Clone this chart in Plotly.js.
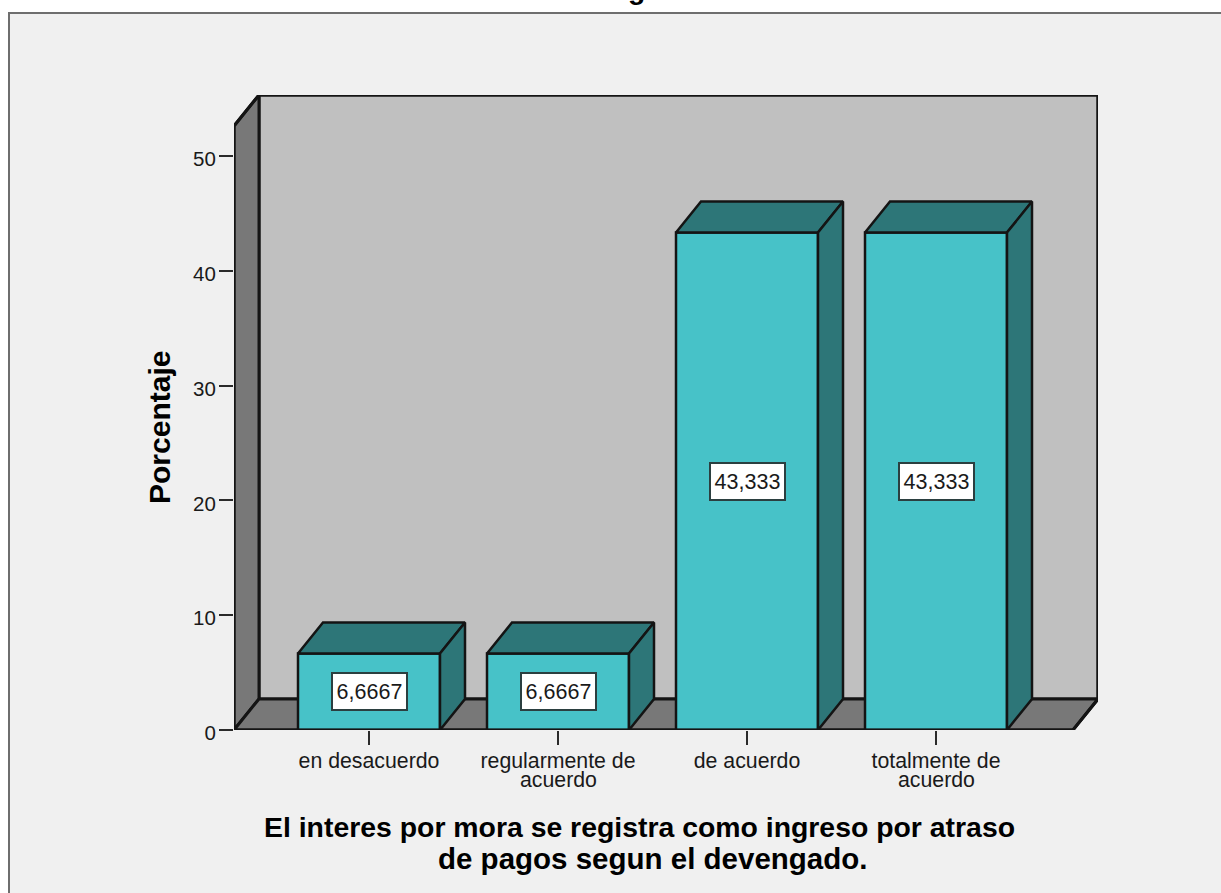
<!DOCTYPE html>
<html>
<head>
<meta charset="utf-8">
<script src="https://cdn.plot.ly/plotly-3.0.1.min.js"></script>
<style>
  html, body { margin: 0; padding: 0; background: #ffffff; overflow: hidden; }
  #frame { position: absolute; left: 8px; top: 12px; right: 0; bottom: 0;
           background: #f0f0f0; border-left: 2px solid #6e6e6e; border-top: 2px solid #6e6e6e; }
  #chart { position: absolute; left: 0; top: 0; width: 1221px; height: 893px; }
</style>
</head>
<body>
<div id="frame"></div>
<div id="chart"></div>
<script>
// Survey answers and their share of respondents
const categories = ['en desacuerdo', 'regularmente de', 'de acuerdo', 'totalmente de'];
const secondLines = ['', 'acuerdo', '', 'acuerdo'];
const percentages = [6.6667, 6.6667, 43.333, 43.333];
const yTicks = [0, 10, 20, 30, 40, 50];
const xTitleLines = ['El interes por mora se registra como ingreso por atraso',
                     'de pagos segun el devengado.'];
const yTitle = 'Porcentaje';

// Canvas geometry of the plot box, in pixels
const W = 1221, H = 893;
const left = 234, right = 1098, top_ = 95, bottom = 730;
const pxPerCategory = 189, firstCategoryPx = 369;
const pxPerUnit = 11.48;

// Axis ranges follow from the geometry above
const xRange = [(left - firstCategoryPx) / pxPerCategory, (right - firstCategoryPx) / pxPerCategory];
const yRange = [0, (bottom - top_) / pxPerUnit];

// Oblique depth of the 3D box, in axis units
const depthX = 25 / pxPerCategory;
const depthY = 31 / pxPerUnit;
const barWidth = 142 / pxPerCategory;
const wallTop = yRange[1] - depthY;
const floorRight = xRange[1] - depthX;

const ink = '#141414';
const wallColor = '#c0c0c0', sideColor = '#787878';
const barFront = '#47c2c8', barShade = '#2d7678';

const polyPath = pts => 'M' + pts.map(p => p[0] + ',' + p[1]).join('L') + 'Z';
const wallShape = (pts, fill) => ({
  type: 'path', xref: 'x', yref: 'y', layer: 'below', path: polyPath(pts),
  fillcolor: fill, line: { color: ink, width: 3 }
});

const shapes = [
  wallShape([[xRange[0] + depthX, depthY], [xRange[1], depthY], [xRange[1], yRange[1]], [xRange[0] + depthX, yRange[1]]], wallColor),
  wallShape([[xRange[0], 0], [xRange[0] + depthX, depthY], [xRange[0] + depthX, yRange[1]], [xRange[0], wallTop]], sideColor),
  wallShape([[xRange[0], 0], [floorRight, 0], [xRange[1], depthY], [xRange[0] + depthX, depthY]], sideColor)
];

// Front faces of the columns
const bars = {
  type: 'bar', x: categories.map((_, i) => i), y: percentages, width: barWidth,
  marker: { color: barFront, line: { color: ink, width: 2.5 } }, hoverinfo: 'x+y', showlegend: false
};

// Top and side faces of one column, worked out from its value
function faceTrace(i, v, kind) {
  const x0 = i - barWidth / 2, x1 = i + barWidth / 2;
  const pts = kind === 'top'
    ? [[x0, v], [x1, v], [x1 + depthX, v + depthY], [x0 + depthX, v + depthY], [x0, v]]
    : [[x1, 0], [x1 + depthX, depthY], [x1 + depthX, v + depthY], [x1, v], [x1, 0]];
  return {
    type: 'scatter', mode: 'lines', x: pts.map(p => p[0]), y: pts.map(p => p[1]),
    fill: 'toself', fillcolor: barShade, line: { color: ink, width: 2.5 },
    hoverinfo: 'skip', showlegend: false
  };
}
const faces = [];
percentages.forEach((v, i) => { faces.push(faceTrace(i, v, 'top'), faceTrace(i, v, 'side')); });

// Outer edges of the box; left unclipped so the full stroke shows at the plot border
const outlineX = [floorRight, xRange[1], xRange[1], xRange[0] + depthX, xRange[0], xRange[0], floorRight];
const outlineY = [0, depthY, yRange[1], yRange[1], wallTop, 0, 0];
const outline = {
  type: 'scatter', mode: 'lines', x: outlineX, y: outlineY, cliponaxis: false,
  line: { color: ink, width: 3 }, hoverinfo: 'skip', showlegend: false
};

const plotW = right - left, plotH = bottom - top_;
const paperX = px => (px - left) / plotW;
const paperY = py => (bottom - py) / plotH;

const centred = { showarrow: false, xanchor: 'center', yanchor: 'middle' };

// Value boxes in the middle of each column
const valueLabels = percentages.map((v, i) => Object.assign({
  x: i, y: v / 2, xref: 'x', yref: 'y',
  text: v.toPrecision(5).replace('.', ','),
  font: { family: 'Liberation Sans', size: 21.5, color: '#1a1a1a' },
  bgcolor: '#ffffff', bordercolor: '#2b3f40', borderwidth: 2, borderpad: 1,
  width: 71, height: 33
}, centred));

// Second lines of the long category labels
const secondLineLabels = secondLines.map((t, i) => t ? Object.assign({
  x: i, y: paperY(780), xref: 'x', yref: 'paper', text: t,
  font: { family: 'Liberation Sans', size: 21.3, color: '#1a1a1a' }
}, centred) : null).filter(Boolean);

const titleFont = { family: 'Liberation Sans', size: 28.4, color: '#000000' };
const titleLabels = [
  { x: paperX(639), y: paperY(827), text: '<b>' + xTitleLines[0] + '</b>', font: titleFont },
  { x: paperX(652), y: paperY(858), text: '<b>' + xTitleLines[1] + '</b>',
    font: Object.assign({}, titleFont, { size: 29.5 }) },
  { x: paperX(159), y: paperY(428), text: '<b>' + yTitle + '</b>', textangle: -90,
    font: Object.assign({}, titleFont, { size: 30 }) },
  // Tail of the heading that runs off the top of the frame
  { x: paperX(636), y: paperY(-11), text: '<b>g</b>', font: titleFont }
].map(a => Object.assign({ xref: 'paper', yref: 'paper' }, centred, a));

const layout = {
  width: W, height: H,
  margin: { l: left, r: W - right, t: top_, b: H - bottom, pad: 0 },
  paper_bgcolor: 'rgba(0,0,0,0)', plot_bgcolor: 'rgba(0,0,0,0)',
  showlegend: false, bargap: 0,
  font: { family: 'Liberation Sans' },
  xaxis: {
    range: xRange, tickmode: 'array', tickvals: categories.map((_, i) => i), ticktext: categories,
    ticks: 'outside', ticklen: 14, tickwidth: 2, tickcolor: '#2a2a2a',
    showgrid: false, zeroline: false, showline: false, ticklabelstandoff: -3,
    tickfont: { family: 'Liberation Sans', size: 21.3, color: '#1a1a1a' }, tickangle: 0
  },
  yaxis: {
    range: yRange, tickmode: 'array', tickvals: yTicks,
    ticks: 'outside', ticklen: 14, tickwidth: 2, tickcolor: '#2a2a2a',
    showgrid: false, zeroline: false, showline: false,
    ticklabelstandoff: -1, ticklabelshift: 3,
    tickfont: { family: 'Liberation Sans', size: 20.5, color: '#1a1a1a' }
  },
  shapes: shapes,
  annotations: valueLabels.concat(secondLineLabels, titleLabels)
};

Plotly.newPlot('chart', [bars].concat(faces, [outline]), layout, { displayModeBar: false, staticPlot: true });
</script>
</body>
</html>
